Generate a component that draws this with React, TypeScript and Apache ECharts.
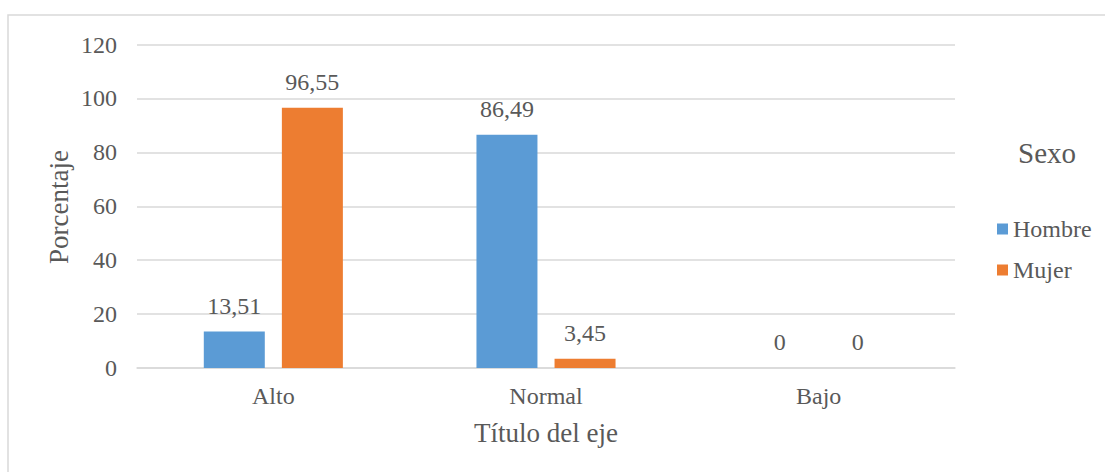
import React, { useEffect, useRef } from "react";
import * as echarts from "echarts";

const categories = ["Alto", "Normal", "Bajo"];
const hombre = [13.51, 86.49, 0];
const mujer = [96.55, 3.45, 0];
const seriesNames = ["Hombre", "Mujer"];
const yTicks = { min: 0, max: 120, interval: 20 };
const yTitle = "Porcentaje";
const xTitle = "Título del eje";
const legendTitle = "Sexo";

const FONT = "Liberation Serif";
const TXT = "#595959";
const GRID = "#d9d9d9";

export default function App() {
  const ref = useRef<HTMLDivElement>(null);
  useEffect(() => {
    if (!ref.current) return;
    const chart = echarts.init(ref.current, undefined, { renderer: "svg" });
    const label = {
      show: true,
      position: "top",
      distance: 14,
      color: TXT,
      fontFamily: FONT,
      fontSize: 24,
      formatter: (p: any) => String(p.value).replace(".", ","),
    };
    chart.setOption({
      animation: false,
      backgroundColor: "#ffffff",
      textStyle: { fontFamily: FONT },
      grid: { left: 137, right: 150, top: 44.5, bottom: 104, containLabel: false },
      legend: {
        orient: "vertical",
        left: 997,
        top: 217,
        padding: 0,
        itemWidth: 11,
        itemHeight: 11,
        itemGap: 17,
        icon: "rect",
        textStyle: { color: TXT, fontFamily: FONT, fontSize: 24 },
        data: seriesNames,
      },
      xAxis: {
        type: "category",
        data: categories,
        axisLine: { show: true, lineStyle: { color: GRID, width: 1.5 } },
        axisTick: { show: false },
        axisLabel: { color: TXT, fontFamily: FONT, fontSize: 24, margin: 16 },
      },
      yAxis: {
        type: "value",
        min: yTicks.min,
        max: yTicks.max,
        interval: yTicks.interval,
        axisLine: { show: false },
        axisTick: { show: false },
        splitLine: { lineStyle: { color: GRID, width: 1.5 } },
        axisLabel: { color: TXT, fontFamily: FONT, fontSize: 24, margin: 20 },
      },
      graphic: [
        {
          type: "rect",
          shape: { x: 8, y: 15, width: 1300, height: 700 },
          style: { fill: "none", stroke: GRID, lineWidth: 1.5 },
          silent: true,
        },
        {
          type: "text",
          x: 546,
          y: 433,
          style: { text: xTitle, fill: TXT, fontFamily: FONT, fontSize: 27, textAlign: "center", textVerticalAlign: "middle" },
        },
        {
          type: "text",
          x: 59,
          y: 207,
          rotation: Math.PI / 2,
          style: { text: yTitle, fill: TXT, fontFamily: FONT, fontSize: 27, textAlign: "center", textVerticalAlign: "middle" },
        },
        {
          type: "text",
          x: 1047,
          y: 153,
          style: { text: legendTitle, fill: TXT, fontFamily: FONT, fontSize: 29, textAlign: "center", textVerticalAlign: "middle" },
        },
      ],
      series: [
        {
          name: seriesNames[0],
          type: "bar",
          data: hombre,
          barWidth: 61,
          barGap: "28%",
          itemStyle: { color: "#5B9BD5" },
          label,
        },
        {
          name: seriesNames[1],
          type: "bar",
          data: mujer,
          barWidth: 61,
          barGap: "28%",
          itemStyle: { color: "#ED7D31" },
          label,
        },
      ],
    });
    return () => chart.dispose();
  }, []);
  return (
    <div
      ref={ref}
      style={{ position: "fixed", left: 0, top: 0, width: 1105, height: 472, background: "#fff" }}
    />
  );
}
